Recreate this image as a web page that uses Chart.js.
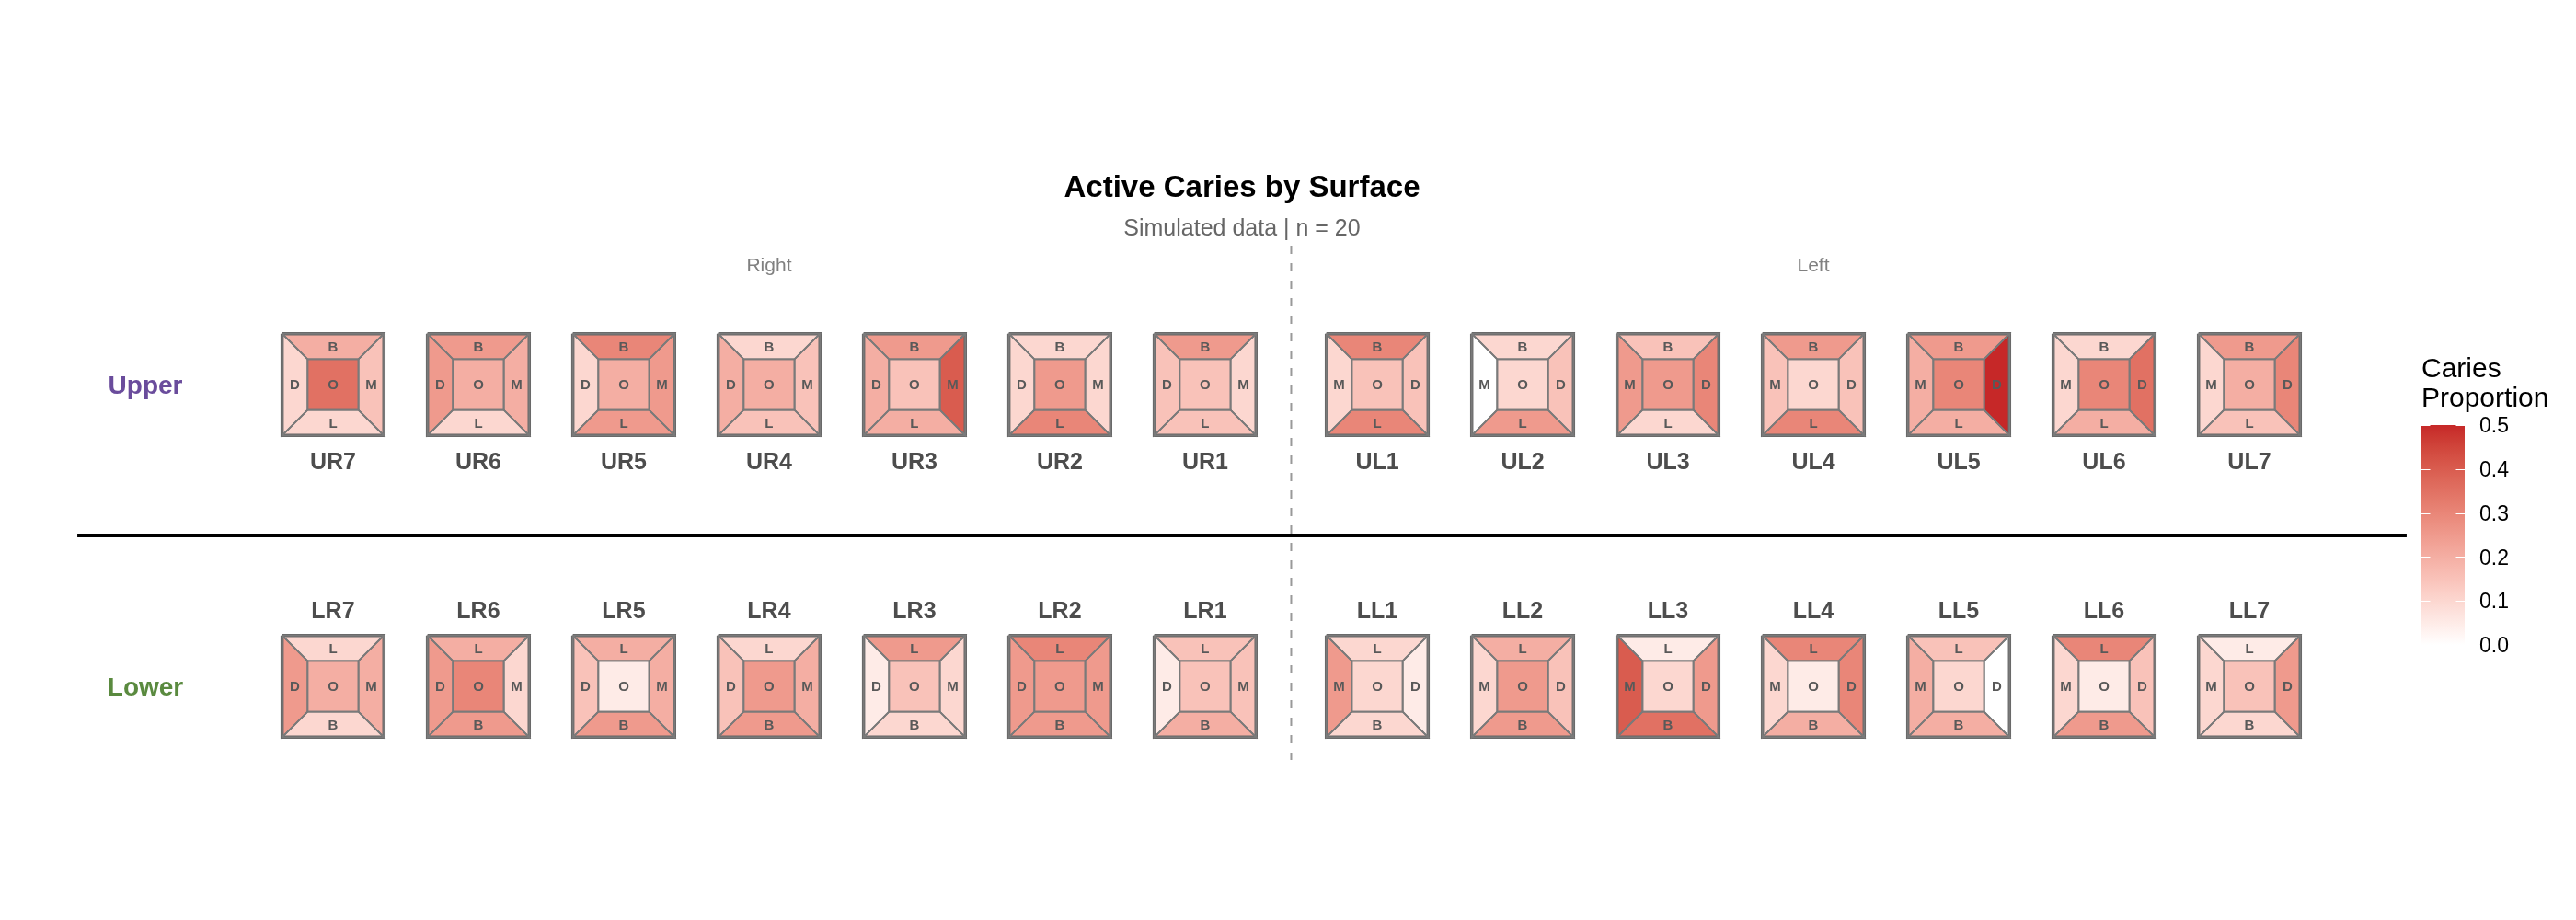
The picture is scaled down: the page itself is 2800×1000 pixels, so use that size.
<!DOCTYPE html>
<html lang="en">
<head>
<meta charset="UTF-8">
<title>Active Caries by Surface</title>
<style>
  html, body { margin: 0; padding: 0; background: #ffffff; }
  canvas { display: block; }
</style>
</head>
<body>
<canvas id="cariesChart" width="2800" height="1000"></canvas>

<script src="https://cdn.jsdelivr.net/npm/chart.js"></script>
<script>
    // teeth, left to right as drawn
    const upperTeeth = ['UR7', 'UR6', 'UR5', 'UR4', 'UR3', 'UR2', 'UR1', 'UL1', 'UL2', 'UL3', 'UL4', 'UL5', 'UL6', 'UL7'];
    const lowerTeeth = ['LR7', 'LR6', 'LR5', 'LR4', 'LR3', 'LR2', 'LR1', 'LL1', 'LL2', 'LL3', 'LL4', 'LL5', 'LL6', 'LL7'];

    // caries proportion per surface (n = 20), same order as the teeth
    const upperB = [0.20, 0.25, 0.30, 0.10, 0.25, 0.10, 0.25, 0.30, 0.10, 0.15, 0.25, 0.25, 0.10, 0.25];
    const upperL = [0.10, 0.10, 0.25, 0.15, 0.20, 0.30, 0.15, 0.30, 0.25, 0.10, 0.30, 0.20, 0.20, 0.15];
    const upperD = [0.10, 0.25, 0.10, 0.20, 0.20, 0.10, 0.15, 0.15, 0.15, 0.30, 0.15, 0.50, 0.35, 0.30];
    const upperM = [0.15, 0.20, 0.25, 0.15, 0.40, 0.10, 0.10, 0.10, 0.00, 0.25, 0.15, 0.20, 0.10, 0.10];
    const upperO = [0.35, 0.20, 0.20, 0.20, 0.15, 0.25, 0.15, 0.15, 0.10, 0.25, 0.10, 0.30, 0.30, 0.20];

    const lowerB = [0.10, 0.25, 0.25, 0.25, 0.10, 0.25, 0.20, 0.10, 0.25, 0.35, 0.20, 0.20, 0.25, 0.10];
    const lowerL = [0.10, 0.20, 0.20, 0.10, 0.25, 0.30, 0.15, 0.10, 0.20, 0.05, 0.30, 0.15, 0.30, 0.05];
    const lowerD = [0.25, 0.25, 0.15, 0.15, 0.05, 0.25, 0.05, 0.05, 0.15, 0.25, 0.30, 0.00, 0.15, 0.25];
    const lowerM = [0.20, 0.10, 0.20, 0.20, 0.10, 0.25, 0.15, 0.25, 0.10, 0.40, 0.10, 0.20, 0.10, 0.10];
    const lowerO = [0.20, 0.30, 0.05, 0.25, 0.15, 0.25, 0.15, 0.10, 0.25, 0.10, 0.05, 0.10, 0.05, 0.15];

    const legendTicks = [0.0, 0.1, 0.2, 0.3, 0.4, 0.5];
    const legendLabels = ['0.0', '0.1', '0.2', '0.3', '0.4', '0.5'];

    const fillLow = '#ffffff';
    const fillHigh = '#c62828';
    const fillMax = 0.5;

    // layout in axis units (158 px per unit on both axes)
    const X_RANGE = [-1.291, 16.431];
    const Y_RANGE = [-2.6835, 3.6456];
    const MIDLINE_GAP = 0.184;      // extra space between right and left quadrants
    const ROW_Y = { upper: 1, lower: -1.076 };
    const OUTER = 0.35;             // half size of a tooth
    const INNER = 0.175;            // half size of the occlusal square
    const FONT = '"Liberation Sans", Arial, Helvetica, sans-serif';

    // ---- colour scale: white -> red, interpolated in Lab like ggplot ----
    function toLinear(c) {
        c = c / 255;
        return c <= 0.04045 ? c / 12.92 : Math.pow((c + 0.055) / 1.055, 2.4);
    }
    function fromLinear(c) {
        c = c <= 0.0031308 ? 12.92 * c : 1.055 * Math.pow(c, 1 / 2.4) - 0.055;
        return Math.round(Math.max(0, Math.min(1, c)) * 255);
    }
    function hexToLab(hex) {
        const n = parseInt(hex.slice(1), 16);
        const r = toLinear((n >> 16) & 255), g = toLinear((n >> 8) & 255), b = toLinear(n & 255);
        const X = (0.4124 * r + 0.3576 * g + 0.1805 * b) / 0.95047;
        const Y = (0.2126 * r + 0.7152 * g + 0.0722 * b);
        const Z = (0.0193 * r + 0.1192 * g + 0.9505 * b) / 1.08883;
        const f = t => t > 0.008856 ? Math.cbrt(t) : t / 0.128418 + 4 / 29;
        const fx = f(X), fy = f(Y), fz = f(Z);
        return [116 * fy - 16, 500 * (fx - fy), 200 * (fy - fz)];
    }
    function labToRgb(L, a, b) {
        const fy = (L + 16) / 116, fx = fy + a / 500, fz = fy - b / 200;
        const inv = t => t > 6 / 29 ? t * t * t : 0.128418 * (t - 4 / 29);
        const X = inv(fx) * 0.95047, Y = inv(fy), Z = inv(fz) * 1.08883;
        const r = 3.2406 * X - 1.5372 * Y - 0.4986 * Z;
        const g = -0.9689 * X + 1.8758 * Y + 0.0415 * Z;
        const bl = 0.0557 * X - 0.2040 * Y + 1.0570 * Z;
        return 'rgb(' + fromLinear(r) + ',' + fromLinear(g) + ',' + fromLinear(bl) + ')';
    }
    const labLow = hexToLab(fillLow);
    const labHigh = hexToLab(fillHigh);
    function fillColour(v) {
        const t = Math.max(0, Math.min(1, v / fillMax));
        return labToRgb(
            labLow[0] + (labHigh[0] - labLow[0]) * t,
            labLow[1] + (labHigh[1] - labLow[1]) * t,
            labLow[2] + (labHigh[2] - labLow[2]) * t
        );
    }

    // ---- build one polygon dataset per surface, plus the tooth outline ----
    const datasets = [];
    const surfaceMarks = [];
    const toothMarks = [];

    function toothX(i) {
        return i < 7 ? i + 1 : i + 1 + MIDLINE_GAP;
    }

    function addTooth(name, i, cy, upper, vals) {
        const cx = toothX(i);
        const rightSide = name[1] === 'R';
        const h = OUTER, k = INNER;
        const shapes = {
            top: [[cx - h, cy + h], [cx + h, cy + h], [cx + k, cy + k], [cx - k, cy + k]],
            bottom: [[cx - h, cy - h], [cx + h, cy - h], [cx + k, cy - k], [cx - k, cy - k]],
            left: [[cx - h, cy + h], [cx - k, cy + k], [cx - k, cy - k], [cx - h, cy - h]],
            right: [[cx + h, cy + h], [cx + k, cy + k], [cx + k, cy - k], [cx + h, cy - h]],
            centre: [[cx - k, cy + k], [cx + k, cy + k], [cx + k, cy - k], [cx - k, cy - k]]
        };
        const which = {
            top: upper ? 'B' : 'L',
            bottom: upper ? 'L' : 'B',
            left: rightSide ? 'D' : 'M',
            right: rightSide ? 'M' : 'D',
            centre: 'O'
        };
        const mid = (h + k) / 2;
        const spots = {
            top: [cx, cy + mid], bottom: [cx, cy - mid],
            left: [cx - mid, cy], right: [cx + mid, cy], centre: [cx, cy]
        };
        Object.keys(shapes).forEach(part => {
            const pts = shapes[part].map(p => ({ x: p[0], y: p[1] }));
            pts.push({ x: shapes[part][0][0], y: shapes[part][0][1] });
            datasets.push({
                label: name + ' ' + which[part],
                data: pts,
                fill: 'shape',
                backgroundColor: fillColour(vals[which[part]]),
                borderColor: '#7a7a7a',
                borderWidth: 1.8,
                borderJoinStyle: 'miter',
                pointRadius: 0
            });
            surfaceMarks.push({ x: spots[part][0], y: spots[part][1], text: which[part] });
        });
        datasets.push({
            label: name + ' outline',
            data: [
                { x: cx - h, y: cy + h }, { x: cx + h, y: cy + h },
                { x: cx + h, y: cy - h }, { x: cx - h, y: cy - h }, { x: cx - h, y: cy + h }
            ],
            fill: false,
            borderColor: '#666666',
            borderWidth: 3.5,
            borderJoinStyle: 'miter',
            pointRadius: 0
        });
        toothMarks.push({ x: cx, y: upper ? cy - 0.525 : cy + 0.525, text: name });
    }

    upperTeeth.forEach((name, i) => addTooth(name, i, ROW_Y.upper, true,
        { B: upperB[i], L: upperL[i], D: upperD[i], M: upperM[i], O: upperO[i] }));
    lowerTeeth.forEach((name, i) => addTooth(name, i, ROW_Y.lower, false,
        { B: lowerB[i], L: lowerL[i], D: lowerD[i], M: lowerM[i], O: lowerO[i] }));

    // jaw separator and midline
    const panelLeft = -0.759, panelRight = 15.266;
    const jawY = (ROW_Y.upper + ROW_Y.lower) / 2;
    datasets.push({
        label: 'jaw line',
        data: [{ x: panelLeft, y: jawY }, { x: panelRight, y: jawY }],
        fill: false, borderColor: '#000000', borderWidth: 4, pointRadius: 0
    });
    const midX = (toothX(6) + toothX(7)) / 2;
    datasets.push({
        label: 'midline',
        data: [{ x: midX, y: 1.956 }, { x: midX, y: -1.582 }],
        fill: false, borderColor: '#999999', borderWidth: 2, borderDash: [9, 10], pointRadius: 0
    });

    // ---- text and colour bar ----
    function capText(ctx, text, x, yMid, size, bold, colour, align) {
        ctx.font = (bold ? 'bold ' : '') + size + 'px ' + FONT;
        ctx.fillStyle = colour;
        ctx.textAlign = align || 'center';
        ctx.textBaseline = 'alphabetic';
        ctx.fillText(text, x, yMid + 0.358 * size);
    }

    const textPlugin = {
        id: 'cariesText',
        afterDatasetsDraw(chart) {
            const { ctx } = chart;
            const x = chart.scales.x, y = chart.scales.y;
            ctx.save();

            surfaceMarks.forEach(m =>
                capText(ctx, m.text, x.getPixelForValue(m.x), y.getPixelForValue(m.y), 15, true, '#595959'));
            toothMarks.forEach(m =>
                capText(ctx, m.text, x.getPixelForValue(m.x), y.getPixelForValue(m.y), 25, true, '#4d4d4d'));

            const panelMid = (x.getPixelForValue(panelLeft) + x.getPixelForValue(panelRight)) / 2;
            capText(ctx, 'Active Caries by Surface', panelMid, 202, 33, true, '#000000');
            capText(ctx, 'Simulated data | n = 20', panelMid, 247, 25, false, '#666666');

            const sideY = y.getPixelForValue(1.823);
            capText(ctx, 'Right', x.getPixelForValue((toothX(0) + toothX(6)) / 2), sideY, 21, false, '#808080');
            capText(ctx, 'Left', x.getPixelForValue((toothX(7) + toothX(13)) / 2), sideY, 21, false, '#808080');

            capText(ctx, 'Upper', 158, y.getPixelForValue(ROW_Y.upper), 28, true, '#6a4c9c');
            capText(ctx, 'Lower', 158, y.getPixelForValue(ROW_Y.lower), 28, true, '#5a8a3f');

            // colour bar
            const barL = 2632, barW = 47, barTop = 462, barBottom = 701;
            const vToPx = v => barBottom - (v / fillMax) * (barBottom - barTop);
            const grad = ctx.createLinearGradient(0, barBottom, 0, barTop);
            for (let s = 0; s <= 20; s++) {
                grad.addColorStop(s / 20, fillColour(fillMax * s / 20));
            }
            ctx.fillStyle = grad;
            ctx.fillRect(barL, barTop, barW, barBottom - barTop);
            ctx.strokeStyle = '#ffffff';
            ctx.lineWidth = 1;
            legendTicks.forEach((v, i) => {
                const py = Math.round(vToPx(v)) + 0.5;
                ctx.beginPath();
                ctx.moveTo(barL, py); ctx.lineTo(barL + 9.5, py);
                ctx.moveTo(barL + barW - 9.5, py); ctx.lineTo(barL + barW, py);
                ctx.stroke();
                capText(ctx, legendLabels[i], 2695, vToPx(v), 23, false, '#000000', 'left');
            });
            ctx.font = '30px ' + FONT;
            ctx.fillStyle = '#000000';
            ctx.textAlign = 'left';
            ctx.textBaseline = 'alphabetic';
            ctx.fillText('Caries', 2632, 410);
            ctx.fillText('Proportion', 2632, 442);

            ctx.restore();
        }
    };

    new Chart(document.getElementById('cariesChart').getContext('2d'), {
        type: 'line',
        data: { datasets: datasets },
        options: {
            responsive: false,
            animation: false,
            events: [],
            layout: { padding: 0 },
            scales: {
                x: { type: 'linear', min: X_RANGE[0], max: X_RANGE[1], display: false },
                y: { type: 'linear', min: Y_RANGE[0], max: Y_RANGE[1], display: false }
            },
            plugins: {
                legend: { display: false },
                tooltip: { enabled: false },
                filler: { drawTime: 'beforeDatasetsDraw' }
            },
            elements: { line: { tension: 0 }, point: { radius: 0 } }
        },
        plugins: [textPlugin]
    });
</script>
</body>
</html>
